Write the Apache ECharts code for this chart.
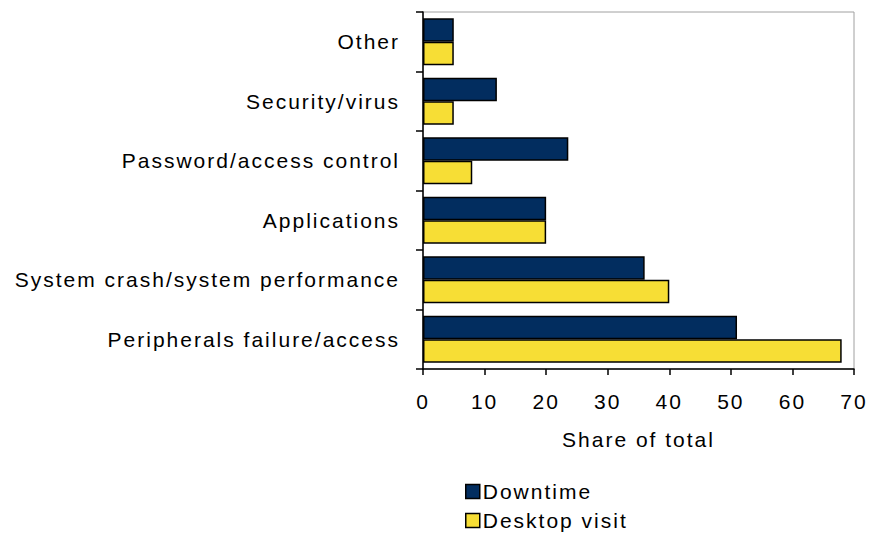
<!DOCTYPE html>
<html>
<head>
<meta charset="utf-8">
<script src="https://cdn.jsdelivr.net/npm/echarts@6/dist/echarts.min.js"></script>
<style>
  html, body { margin: 0; padding: 0; background: #ffffff; }
  #chart { width: 872px; height: 533px; }
  #chart text { letter-spacing: 2px; }
</style>
</head>
<body>
<div id="chart"></div>
<script>
const categories = [
  'Other',
  'Security/virus',
  'Password/access control',
  'Applications',
  'System crash/system performance',
  'Peripherals failure/access'
];
const downtime = [5, 12, 23.6, 20, 36, 51];
const desktopVisit = [5, 5, 8, 20, 40, 68];
const xTicks = { min: 0, max: 70, interval: 10 };
const seriesNames = ['Downtime', 'Desktop visit'];

const FONT = '"Liberation Sans", Arial, sans-serif';
const FS = 21;
const chart = echarts.init(document.getElementById('chart'), null, { renderer: 'svg' });
chart.setOption({
  animation: false,
  backgroundColor: '#ffffff',
  textStyle: { fontFamily: FONT },
  grid: {
    left: 423, right: 18, top: 12, bottom: 164,
    show: true, borderColor: '#a0a0a0', borderWidth: 1, backgroundColor: 'transparent'
  },
  legend: {
    orient: 'vertical',
    left: 465, top: 481,
    padding: 0,
    itemWidth: 14, itemHeight: 14, itemGap: 8,
    icon: 'rect',
    data: seriesNames,
    textStyle: { fontSize: FS, lineHeight: 20, color: '#000', fontFamily: FONT, padding: [0, 0, 0, -2] },
    itemStyle: { borderColor: '#000', borderWidth: 1.5 }
  },
  xAxis: {
    type: 'value',
    min: xTicks.min, max: xTicks.max, interval: xTicks.interval,
    name: 'Share of total',
    nameLocation: 'middle',
    nameGap: 60,
    nameTextStyle: { fontSize: FS, color: '#000', fontFamily: FONT },
    axisLine: { show: true, lineStyle: { color: '#000', width: 1.5 } },
    axisTick: { show: true, length: 6, lineStyle: { color: '#000', width: 1.5 } },
    axisLabel: { fontSize: FS, color: '#000', margin: 22, fontFamily: FONT },
    splitLine: { show: false }
  },
  yAxis: {
    type: 'category',
    data: categories,
    inverse: true,
    axisLine: { show: true, lineStyle: { color: '#000', width: 1.5 } },
    axisTick: { show: true, length: 7, lineStyle: { color: '#000', width: 1.5 } },
    axisLabel: { fontSize: FS, color: '#000', margin: 23, fontFamily: FONT },
    splitLine: { show: false }
  },
  series: [
    {
      name: seriesNames[0], type: 'bar', data: downtime,
      barGap: '0%', barCategoryGap: '21%',
      itemStyle: { color: '#022d5f', borderColor: '#000', borderWidth: 1.5 }
    },
    {
      name: seriesNames[1], type: 'bar', data: desktopVisit,
      barGap: '0%', barCategoryGap: '21%',
      itemStyle: { color: '#f7de35', borderColor: '#000', borderWidth: 1.5 }
    }
  ]
});
</script>
</body>
</html>
